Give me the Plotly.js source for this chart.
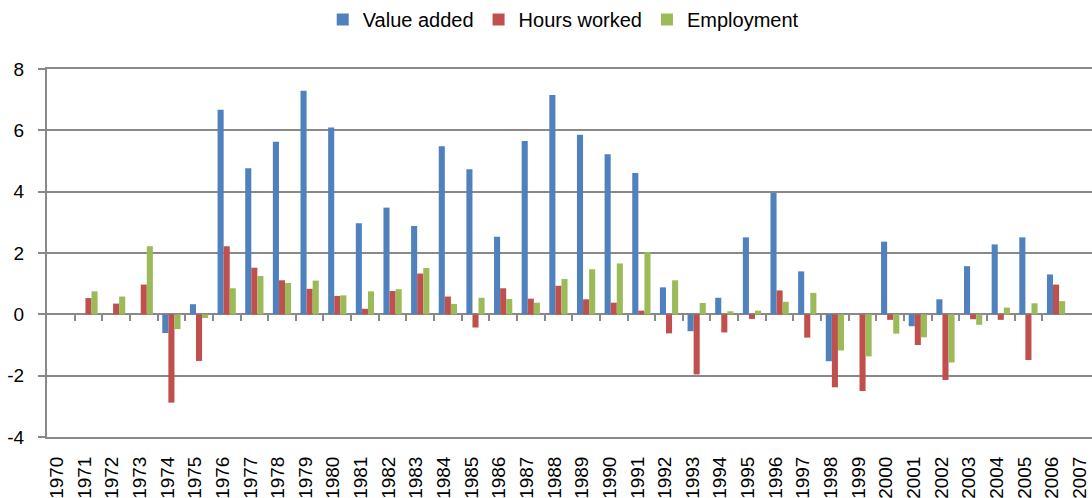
<!DOCTYPE html>
<html>
<head>
<meta charset="utf-8">
<script src="https://cdn.plot.ly/plotly-3.0.1.min.js"></script>
<style>html,body{margin:0;padding:0;background:#fff;}#chart{width:1092px;height:498px;}</style>
</head>
<body>
<div id="chart"></div>
<script>
const years = ["1970","1971","1972","1973","1974","1975","1976","1977","1978","1979","1980","1981","1982","1983","1984","1985","1986","1987","1988","1989","1990","1991","1992","1993","1994","1995","1996","1997","1998","1999","2000","2001","2002","2003","2004","2005","2006","2007"];

const valueAdded = [null,null,null,null,-0.61,0.33,6.67,4.76,5.63,7.29,6.09,2.97,3.48,2.88,5.48,4.73,2.53,5.65,7.15,5.86,5.22,4.61,0.88,-0.55,0.54,2.51,3.96,1.40,-1.53,null,2.37,-0.39,0.49,1.57,2.28,2.51,1.30,null];

const hoursWorked = [null,0.53,0.35,0.97,-2.88,-1.52,2.22,1.52,1.11,0.83,0.60,0.18,0.76,1.33,0.58,-0.43,0.85,0.51,0.93,0.49,0.38,0.12,-0.62,-1.96,-0.59,-0.15,0.78,-0.76,-2.38,-2.50,-0.18,-1.00,-2.14,-0.16,-0.18,-1.49,0.97,null];

const employment = [null,0.75,0.58,2.22,-0.48,-0.12,0.85,1.25,1.02,1.10,0.62,0.75,0.82,1.51,0.34,0.54,0.50,0.38,1.15,1.47,1.66,2.03,1.11,0.37,0.10,0.12,0.41,0.70,-1.18,-1.37,-0.63,-0.75,-1.57,-0.34,0.22,0.36,0.43,null];

const seriesNames = ["Value added","Hours worked","Employment"];
const yTicks = [-4,-2,0,2,4,6,8];

const yMin = -4, yMax = 8;
const xMax = years.length - 1 + 0.3;
const gray = "#898989";
const fontFam = "Liberation Sans, Arial, sans-serif";

const colors = ["#4F81BD","#C0504D","#9BBB59"];
const data = [valueAdded, hoursWorked, employment].map((vals,i)=>({
  type:"bar", name:seriesNames[i], x:years, y:vals,
  marker:{color:colors[i], line:{width:0}},
  hoverinfo:"x+y+name"
}));
data.push({type:"scatter", x:[], y:[], xaxis:"x2", yaxis:"y", showlegend:false, hoverinfo:"skip"});

const boundaries = years.slice(0, years.length-2).map((_,i)=>i+0.5);

const layout = {
  width:1092, height:498,
  margin:{l:47, r:0, t:69, b:61, pad:0},
  paper_bgcolor:"#fff", plot_bgcolor:"#fff",
  font:{family:fontFam, size:19, color:"#000"},
  barmode:"group", bargap:0.34, bargroupgap:0,
  showlegend:true,
  legend:{orientation:"h", x:0.494, xanchor:"center", y:1, yref:"container", yanchor:"top",
          font:{size:20, family:fontFam, color:"#000"}, itemwidth:30, traceorder:"normal"},
  xaxis:{type:"category", range:[-0.5, xMax], showgrid:false, zeroline:false,
         showline:true, mirror:true, linecolor:gray, linewidth:2,
         ticks:"", tickangle:-90, tickfont:{size:19},
         ticklabelstandoff:10, ticklabelshift:-4, automargin:false, fixedrange:true},
  xaxis2:{type:"linear", overlaying:"x", anchor:"free", position:(0-yMin)/(yMax-yMin),
          side:"bottom", range:[-0.5, xMax], showgrid:false, zeroline:false,
          showline:false, showticklabels:false, ticks:"outside", ticklen:6,
          tickwidth:2, tickcolor:gray, tickmode:"array", tickvals:boundaries, fixedrange:true},
  yaxis:{range:[yMin, yMax], tickmode:"array", tickvals:yTicks, ticktext:yTicks.map(String),
         showgrid:true, gridcolor:gray, gridwidth:2,
         zeroline:true, zerolinecolor:gray, zerolinewidth:2,
         showline:true, linecolor:gray, linewidth:2,
         ticks:"outside", ticklen:7, tickwidth:2, tickcolor:gray,
         tickfont:{size:19}, ticklabelstandoff:10, automargin:false, fixedrange:true}
};

Plotly.newPlot("chart", data, layout, {displayModeBar:false, staticPlot:true});
</script>
</body>
</html>
